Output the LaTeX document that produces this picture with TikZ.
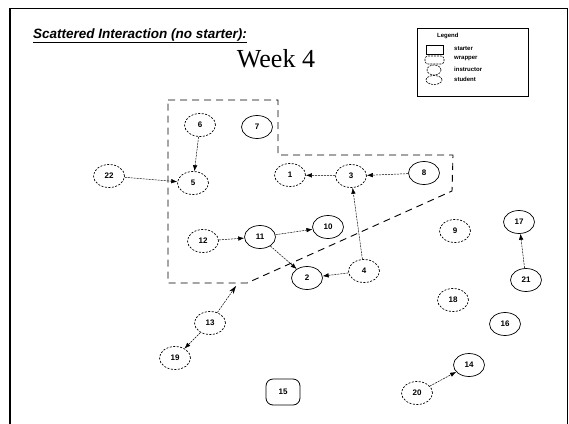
\documentclass[tikz,border=0pt]{standalone}
\usepackage{fontspec}
\setmainfont{Liberation Serif}
\newfontfamily\arial{Liberation Sans}
\usetikzlibrary{shapes.geometric,arrows.meta}

\begin{document}
\begin{tikzpicture}[x=1pt,y=-1pt,
    student/.style={ellipse,draw,line width=0.7pt,minimum width=31pt,minimum height=23pt,
      inner sep=0pt,font=\arial\bfseries\fontsize{8}{8}\selectfont},
    loose/.style={student,dash pattern=on 2pt off 1.5pt},
    starter/.style={rectangle,draw,line width=0.8pt,rounded corners=7pt,minimum width=34pt,
      minimum height=26pt,inner sep=0pt,font=\arial\bfseries\fontsize{8}{8}\selectfont},
    link/.style={-{Latex[length=6pt,width=4.5pt]},line width=0.5pt,dash pattern=on 2pt off 1pt},
    keytext/.style={anchor=west,inner sep=0pt,font=\arial\bfseries\fontsize{6}{6}\selectfont}]
    \useasboundingbox (0,0) rectangle (569,423);

    % slide frame
    \draw[line width=0.8pt] (10,8) -- (567,8) -- (567,430);
    \draw[line width=1.8pt] (10,8) -- (10,430);

    \node[anchor=base west,inner sep=0pt,font=\arial\bfseries\itshape\fontsize{13.5}{13.5}\selectfont]
      (title) at (33,38) {\underline{Scattered Interaction (no starter):}};
    \node[anchor=base,inner sep=0pt,font=\fontsize{26}{26}\selectfont]
      (week) at (276,67) {Week 4};

    % legend
    \draw[line width=0.6pt] (417,28) rectangle (528,96);
    \node[keytext] (keyhead) at (437,36) {Legend};
    \draw[line width=0.6pt] (426,45) rectangle (443,54);
    \draw[line width=0.6pt,dash pattern=on 2pt off 1pt,rounded corners=3pt] (425,56) rectangle (444,64);
    \draw[line width=0.6pt,dash pattern=on 2pt off 1pt] (434,70) ellipse (7pt and 5pt);
    \draw[line width=0.6pt,dash pattern=on 2pt off 1pt] (434,80) ellipse (8pt and 4.5pt);
    \node[keytext] (k1) at (454,49) {starter};
    \node[keytext] (k2) at (454,59) {wrapper};
    \node[keytext] (k3) at (454,69) {instructor};
    \node[keytext] (k4) at (454,79) {student};

    % wrapper
    \draw[line width=0.9pt,dash pattern=on 7pt off 5pt] (168,100) -- (278,100) -- (278,155)
      -- (453,155) -- (452,191) -- (247,283) -- (168,283) -- cycle;
    \coordinate (hit) at (236,286);

    \node[loose] (n6) at (200,125) {6};
    \node[student] (n7) at (257,127) {7};
    \node[loose] (n22) at (109,176) {22};
    \node[loose] (n5) at (193,183) {5};
    \node[loose] (n1) at (290,175) {1};
    \node[loose] (n3) at (351,176) {3};
    \node[student] (n8) at (424,173) {8};
    \node[loose] (n12) at (203,241) {12};
    \node[student] (n11) at (260,237) {11};
    \node[student] (n10) at (328,227) {10};
    \node[student] (n2) at (307,278) {2};
    \node[loose] (n4) at (364,271) {4};
    \node[loose] (n9) at (455,231) {9};
    \node[student] (n17) at (519,222) {17};
    \node[student] (n21) at (526,280) {21};
    \node[loose] (n18) at (453,300) {18};
    \node[student] (n16) at (505,324) {16};
    \node[loose] (n13) at (210,323) {13};
    \node[loose] (n19) at (175,358) {19};
    \node[student] (n14) at (469,365) {14};
    \node[loose] (n20) at (417,393) {20};
    \node[starter] (n15) at (283,392) {15};

    \draw[link] (n6) -- (n5);
    \draw[link] (n22) -- (n5);
    \draw[link] (n3) -- (n1);
    \draw[link] (n8) -- (n3);
    \draw[link] (n4) -- (n3);
    \draw[link] (n12) -- (n11);
    \draw[link] (n11) -- (n10);
    \draw[link] (n11) -- (n2);
    \draw[link] (n4) -- (n2);
    \draw[link] (n21) -- (n17);
    \draw[link] (n20) -- (n14);
    \draw[link] (n13) -- (n19);
    \draw[line width=0.5pt,dash pattern=on 2pt off 1pt,-{Stealth[length=8pt,width=5pt]}] (n13) -- (hit);
\end{tikzpicture}
\end{document}
